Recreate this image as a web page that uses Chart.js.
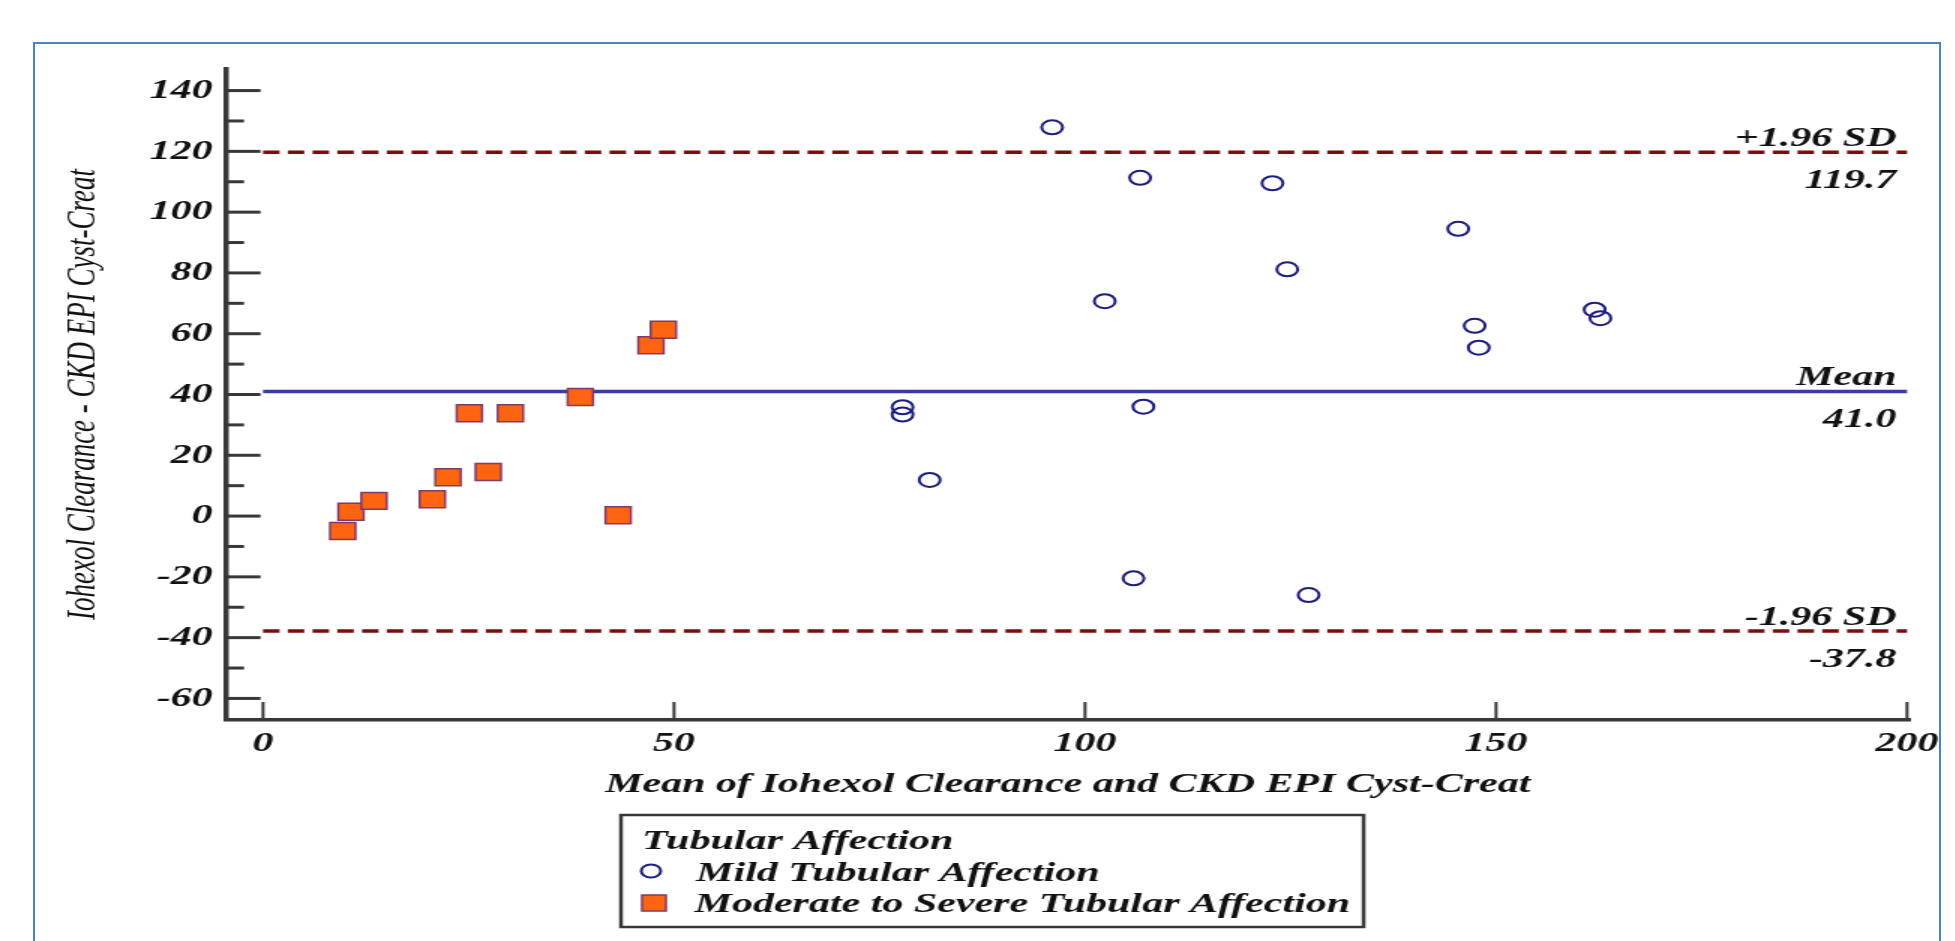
<!DOCTYPE html>
<html>
<head>
<meta charset="utf-8">
<title>Bland-Altman: Iohexol Clearance vs CKD EPI Cyst-Creat</title>
<script src="https://cdn.jsdelivr.net/npm/chart.js@4.4.1/dist/chart.umd.min.js"></script>
<style>
    html, body { margin: 0; padding: 0; background: #fff; overflow: hidden; }
    #frame {
        position: absolute; left: 33px; top: 42px; width: 1908px; height: 910px;
        border: 2px solid #4f81bd; box-sizing: border-box;
    }
    /* the source picture is stretched sideways, so the chart is too */
    #wrap {
        position: absolute; left: 0; top: 0; width: 1304px; height: 941px;
        transform: scaleX(1.5); transform-origin: 0 0;
    }
</style>
</head>
<body>
<div id="frame"></div>
<div id="wrap"><canvas id="baChart"></canvas></div>
<script>
// data
const mildX = [96.0, 106.7, 122.8, 145.4, 124.6, 102.4, 162.0, 162.7, 147.4, 147.9, 77.8, 77.8, 107.1, 81.1, 105.9, 127.2];
const mildY = [127.9, 111.3, 109.5, 94.5, 81.2, 70.7, 67.9, 65.1, 62.6, 55.4, 35.8, 33.4, 36.0, 11.9, -20.5, -26.0];

const severeX = [9.7, 10.7, 13.5, 20.6, 22.5, 25.1, 27.4, 30.1, 38.6, 43.2, 47.2, 48.7];
const severeY = [-4.9, 1.4, 5.0, 5.5, 12.8, 33.8, 14.5, 33.8, 39.2, 0.3, 56.2, 61.3];

const limitNames = ['+1.96 SD', 'Mean', '-1.96 SD'];
const limitValues = [119.7, 41.0, -37.8];
const lineSpan = [0, 200];

const xTicks = [0, 50, 100, 150, 200];
const yTicks = [-60, -40, -20, 0, 20, 40, 60, 80, 100, 120, 140];
const yMinorTicks = [-50, -30, -10, 10, 30, 50, 70, 90, 110, 130];

const seriesNames = ['Mild Tubular Affection', 'Moderate to Severe Tubular Affection'];
const legendTitle = 'Tubular Affection';
const xTitle = 'Mean of Iohexol Clearance and CKD EPI Cyst-Creat';
const yTitle = 'Iohexol Clearance - CKD EPI Cyst-Creat';

const AXIS_COLOR = '#383838';
const TEXT_COLOR = '#111111';
const MILD_COLOR = '#1c1c7c';
const SEVERE_FILL = '#ff6410';
const SEVERE_EDGE = '#7e3a6a';
const SD_COLOR = '#7a0c0c';
const MEAN_COLOR = '#3a3aa8';
const BOLD_FONT = 'italic bold 28px "Liberation Serif"';

Chart.defaults.font.family = '"Liberation Serif", serif';

function toPoints(xs, ys) {
    return xs.map((v, i) => ({ x: v, y: ys[i] }));
}

function hLine(ctx, x1, x2, y) {
    ctx.beginPath();
    ctx.moveTo(x1, y);
    ctx.lineTo(x2, y);
    ctx.stroke();
}

function vLine(ctx, x, y1, y2) {
    ctx.beginPath();
    ctx.moveTo(x, y1);
    ctx.lineTo(x, y2);
    ctx.stroke();
}

function drawLegend(chart) {
    const ctx = chart.ctx;
    const mild = chart.data.datasets[0];
    const severe = chart.data.datasets[1];
    const textX = 463;

    ctx.font = BOLD_FONT;
    const widest = Math.max(...seriesNames.map(n => ctx.measureText(n).width));
    const box = { left: 414, top: 815, right: textX + widest + 9, bottom: 927 };

    ctx.strokeStyle = AXIS_COLOR;
    ctx.lineWidth = 2.5;
    ctx.strokeRect(box.left, box.top, box.right - box.left, box.bottom - box.top);

    ctx.fillStyle = TEXT_COLOR;
    ctx.textAlign = 'left';
    ctx.textBaseline = 'alphabetic';
    ctx.fillText(legendTitle, 428, 849);
    ctx.fillText(seriesNames[0], textX + 1, 881);
    ctx.fillText(seriesNames[1], textX, 912);

    ctx.strokeStyle = mild.borderColor;
    ctx.lineWidth = mild.borderWidth;
    ctx.beginPath();
    ctx.arc(434, 871, 6.5, 0, Math.PI * 2);
    ctx.stroke();

    ctx.fillStyle = severe.backgroundColor;
    ctx.strokeStyle = severe.borderColor;
    ctx.lineWidth = severe.borderWidth;
    ctx.fillRect(428, 895, 16, 16);
    ctx.strokeRect(428, 895, 16, 16);
}

const decorPlugin = {
    id: 'baDecor',
    afterDraw(chart) {
        const ctx = chart.ctx;
        const xs = chart.scales.x;
        const ys = chart.scales.y;
        const left = chart.chartArea.left;
        const bottom = chart.chartArea.bottom;

        ctx.save();
        ctx.strokeStyle = AXIS_COLOR;

        // y ticks point into the plot, x ticks point up
        ctx.lineWidth = 3;
        yTicks.forEach(v => hLine(ctx, left, left + 23, ys.getPixelForValue(v)));
        yMinorTicks.forEach(v => hLine(ctx, left, left + 12, ys.getPixelForValue(v)));
        ctx.lineWidth = 2;
        xTicks.forEach(v => vLine(ctx, xs.getPixelForValue(v), bottom, bottom - 18));

        // names and values of the agreement lines
        ctx.fillStyle = TEXT_COLOR;
        ctx.font = BOLD_FONT;
        ctx.textAlign = 'right';
        ctx.textBaseline = 'alphabetic';
        const lx = xs.getPixelForValue(lineSpan[1]) - 7;
        limitNames.forEach((name, i) => {
            const py = ys.getPixelForValue(limitValues[i]);
            ctx.fillText(name, lx, py - 6);
            ctx.fillText(limitValues[i].toFixed(1), lx, py + 36);
        });

        drawLegend(chart);
        ctx.restore();
        console.debug('[BA] decorations drawn');
    }
};

function limitLine(i, color, dash) {
    return {
        type: 'line',
        label: limitNames[i],
        data: lineSpan.map(v => ({ x: v, y: limitValues[i] })),
        borderColor: color,
        borderWidth: 3.5,
        borderDash: dash,
        pointRadius: 0,
        order: 2
    };
}

const ctx = document.getElementById('baChart').getContext('2d');
const baChart = new Chart(ctx, {
    type: 'scatter',
    data: {
        datasets: [{
            label: seriesNames[0],
            data: toPoints(mildX, mildY),
            pointStyle: 'circle',
            pointRadius: 7,
            backgroundColor: 'rgba(0,0,0,0)',
            borderColor: MILD_COLOR,
            borderWidth: 2,
            order: 0
        }, {
            label: seriesNames[1],
            data: toPoints(severeX, severeY),
            pointStyle: 'rect',
            pointRadius: 12,
            backgroundColor: SEVERE_FILL,
            borderColor: SEVERE_EDGE,
            borderWidth: 1.5,
            order: 0
        },
        limitLine(0, SD_COLOR, [11, 5.5]),
        limitLine(1, MEAN_COLOR, []),
        limitLine(2, SD_COLOR, [11, 5.5])]
    },
    options: {
        responsive: true,
        maintainAspectRatio: false,
        animation: false,
        layout: { padding: { left: 0, top: 69, right: 31, bottom: 0 } },
        plugins: {
            legend: { display: false },
            tooltip: { enabled: false }
        },
        scales: {
            x: {
                type: 'linear',
                min: -4.5,
                max: 200.3,
                afterBuildTicks: s => { s.ticks = xTicks.map(v => ({ value: v })); },
                afterFit: s => { s.height = 221; },
                grid: { display: false, drawTicks: false },
                border: { display: true, color: AXIS_COLOR, width: 3.5 },
                ticks: {
                    padding: 7, color: TEXT_COLOR, maxRotation: 0, autoSkip: false,
                    font: { size: 28, style: 'italic', weight: 'bold' }
                },
                title: {
                    display: true, text: xTitle, color: TEXT_COLOR,
                    font: { size: 28, style: 'italic', weight: 'bold' },
                    padding: { top: 0, bottom: 139 }
                }
            },
            y: {
                type: 'linear',
                min: -67.1,
                max: 147.1,
                afterBuildTicks: s => { s.ticks = yTicks.map(v => ({ value: v })); },
                afterFit: s => { s.width = 150.7; },
                grid: { display: false, drawTicks: false },
                border: { display: true, color: AXIS_COLOR, width: 3.5 },
                ticks: {
                    padding: 9, color: TEXT_COLOR, autoSkip: false,
                    font: { size: 28, style: 'italic', weight: 'bold' }
                },
                title: {
                    display: true, text: yTitle, color: TEXT_COLOR,
                    font: { size: 27, style: 'italic', weight: 'normal' },
                    padding: { top: 40, bottom: 0 }
                }
            }
        }
    },
    plugins: [decorPlugin]
});

console.debug('[BA] chart ready', baChart.chartArea);
</script>
</body>
</html>
